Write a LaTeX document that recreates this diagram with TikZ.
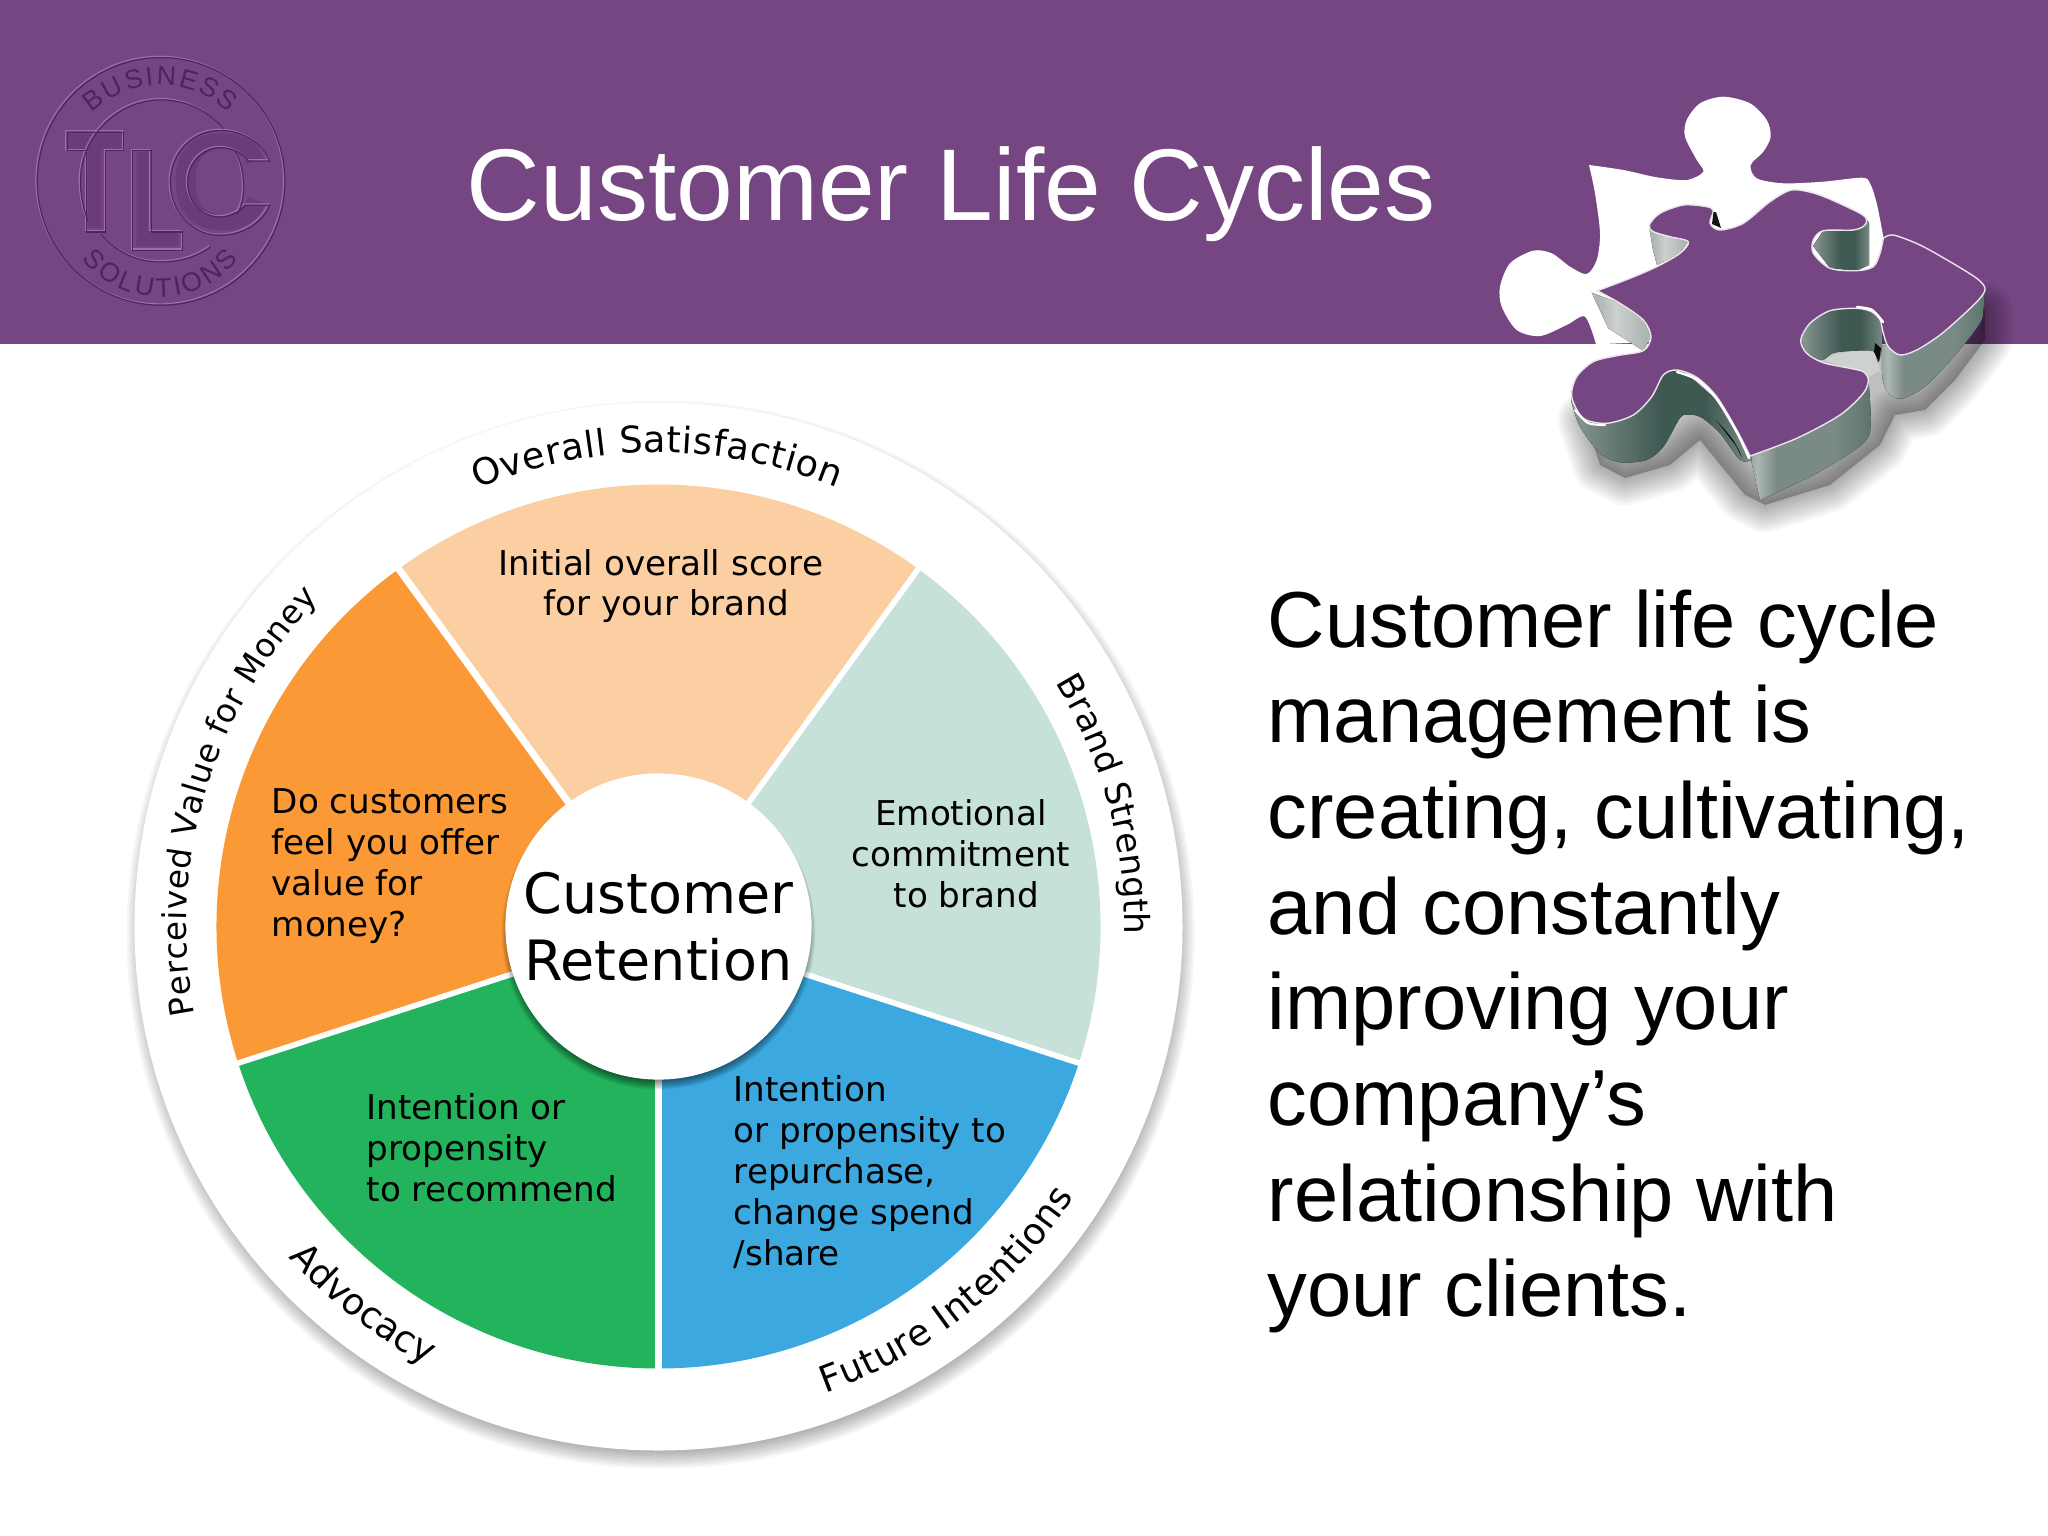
\documentclass[tikz,border=0pt]{standalone}
\usepackage{fontspec}
\setmainfont{Liberation Sans}
\newfontfamily\wheelfont{DejaVu Sans}
\usetikzlibrary{decorations.text}
\definecolor{band}{RGB}{117,70,130}
\definecolor{orangeS}{RGB}{251,153,55}
\definecolor{peachS}{RGB}{251,207,162}
\definecolor{mintS}{RGB}{197,225,218}
\definecolor{greenS}{RGB}{35,179,92}
\definecolor{blueS}{RGB}{59,169,224}
\definecolor{embD}{RGB}{78,36,94}
\definecolor{embL}{RGB}{160,110,175}
\definecolor{embF}{RGB}{108,60,122}
\definecolor{wD}{RGB}{62,88,82}
\definecolor{wM}{RGB}{122,138,133}
\definecolor{wL}{RGB}{172,182,178}
\definecolor{wP}{RGB}{205,209,207}
\pgfdeclarehorizontalshading{wallA}{100bp}{color(0bp)=(wM); color(15bp)=(wL); color(30bp)=(wM); color(50bp)=(wD); color(62bp)=(wD); color(75bp)=(wM); color(90bp)=(wL); color(100bp)=(wM)}
\pgfdeclarehorizontalshading{wallB}{100bp}{color(0bp)=(wM); color(20bp)=(wM); color(28bp)=(wL); color(36bp)=(wM); color(60bp)=(wM); color(80bp)=(wD!60!wM); color(100bp)=(wD!70!wM)}
\pgfdeclarehorizontalshading{wallC}{100bp}{color(0bp)=(wP); color(30bp)=(wL); color(45bp)=(wP); color(70bp)=(wL); color(100bp)=(wP)}
\tikzset{
  inner/.style={font=\wheelfont\fontsize{9.72}{11.67}\selectfont,inner sep=0pt,anchor=north west,align=left,text=black},
  innerc/.style={inner,anchor=north,align=center},
  sep/.style={white,line width=1.6pt},
  rim/.style={draw=white!85!band,line width=0.4pt},
  emb/.style={line width=0.32pt},
}
\begin{document}
\begin{tikzpicture}[x=0.01cm,y=-0.01cm]
\useasboundingbox (0,0) rectangle (2048,1536);
\fill[white] (0,0) rectangle (2048,1536);
\fill[band] (0,0) rectangle (2048,343.5);

% logo
\begin{scope}[shift={(0,20)},x=0.003333cm,y=-0.003333cm]
  \node[inner sep=0pt,text=embF,transform shape,xscale=.68,font=\bfseries\fontsize{39}{39}\selectfont] (logoT) at (285,485) {T};
  \node[inner sep=0pt,text=embF,transform shape,xscale=.6,font=\bfseries\fontsize{39}{39}\selectfont] (logoL) at (472,540) {L};
  \node[inner sep=0pt,text=embF,font=\bfseries\fontsize{39}{39}\selectfont] (logoC) at (660,487) {C};
  \foreach \dd/\cc in {-2/embL,2/embD}{
  \begin{scope}[shift={(\dd,\dd)}]
  \draw[\cc,emb] (482,483) circle[radius=372];
  \draw[\cc,emb] (670,325) .. controls (620,265) and (550,238) .. (482,238) .. controls (350,238) and (240,350) .. (240,482) .. controls (240,530) and (250,570) .. (262,600);
  \draw[\cc,emb] (300,640) .. controls (350,700) and (415,725) .. (482,725) .. controls (540,725) and (590,710) .. (630,680);
  \draw[\cc,emb] (200,335) -- (370,335) -- (370,390) -- (315,390) -- (315,635) -- (258,635) -- (258,390) -- (200,390) -- cycle;
  \draw[\cc,emb] (397,390) -- (452,390) -- (452,635) -- (547,635) -- (547,690) -- (397,690) -- cycle;
  \draw[\cc,emb] (808,422) .. controls (785,365) and (725,330) .. (660,330) .. controls (575,330) and (510,400) .. (510,485) .. controls (510,575) and (575,645) .. (660,645) .. controls (725,645) and (785,610) .. (808,555) -- (735,555) .. controls (715,575) and (690,590) .. (660,590) .. controls (605,590) and (562,545) .. (562,487) .. controls (562,430) and (605,382) .. (660,382) .. controls (695,382) and (725,395) .. (745,422) -- cycle;
  \draw[\cc,emb] (700,390) .. controls (730,420) and (745,530) .. (710,582);
  \end{scope}}
  \path[decorate,decoration={text along path,text align={fit to path},text={|\fontsize{7.6}{8}\selectfont\color{embD}|BUSINESS}}]
    (482-205,483-205) .. controls (400,168) and (565,168) .. (482+205,483-205);
  \path[decorate,decoration={text along path,text align={fit to path},text={|\fontsize{7.6}{8}\selectfont\color{embD}|SOLUTIONS}}]
    (482-235,483+235) .. controls (370,870) and (595,870) .. (482+235,483+235);
\end{scope}

\node[anchor=base west,inner sep=0pt,text=white,font=\fontsize{29}{34}\selectfont] (title) at (466,220) {Customer Life Cycles};

% puzzle piece, in picture pixels
  % soft shadow: stacked strokes
  \fill[black,opacity=.25] (1985,310) -- (1985,340) -- (1955,380) -- (1925,410) -- (1895,415) -- (1880,445) -- (1830,485) -- (1765,505) -- (1745,495) -- (1700,440) -- (1670,465) -- (1625,478) -- (1600,465) -- (1585,420) -- (1700,350) -- (1900,310) -- cycle;
  \foreach \w in {5,10,...,55}{
    \draw[black,opacity=.03,line width=\w*0.2845pt,line join=round]
      (1985,310) -- (1985,340) -- (1955,380) -- (1925,410) -- (1895,415) -- (1880,445) -- (1830,485) -- (1765,505) -- (1745,495) -- (1700,440) -- (1670,465) -- (1625,478) -- (1600,465) -- (1585,420) -- (1700,350) -- (1900,310) -- cycle;}
  % cavity
  \fill[white] plot[smooth,tension=.5] coordinates {(1596,344.3) (1585,316.7) (1566.7,325) (1540,336) (1516.7,330) (1501.7,306.7) (1500,286.7) (1510,263.3) (1533,250.7) (1551.7,253.3) (1570,266.7) (1586.7,274) (1596.7,260) (1600,233.3) (1595,193.3) (1589,165)} -- plot[smooth,tension=.5] coordinates {(1589,165) (1623.3,170) (1656.7,177.3) (1686.7,180) (1703.3,171.7) (1696.7,160) (1685,136.7) (1686.7,120) (1700,103.3) (1723.3,96.7) (1750,103.3) (1766.7,120) (1770.7,136.7) (1763.3,151.7) (1750.7,165) (1756.7,178.3) (1783.3,183.3) (1823,181.7) (1861.7,177.7) (1870,183.3) (1876.7,203.3) (1883.3,236.7)} -- (1880,280) -- (1700,340) -- cycle;
  % walls
  \fill[shading=wallB,shading angle=0] plot[smooth,tension=.5] coordinates {(1985,288) (1983.3,310) (1980,323.3) (1956.7,353.3) (1926.7,385) (1903.3,398.3) (1890,395) (1882.7,380) (1881.7,346.7)} -- (1900,340) -- (1960,300) -- cycle;
  \fill[shading=wallB,shading angle=0] plot[smooth,tension=.5] coordinates {(1868.3,378) (1870.7,423.3) (1863.3,443.3) (1816.7,473.3) (1760,500)} -- (1750,455) -- (1800,420) -- cycle;
  \fill[shading=wallA,shading angle=0] plot[smooth,tension=.5] coordinates {(1571.7,396) (1571.7,403) (1580,426.7) (1600,453.3) (1620,462.3) (1646.7,460) (1663.3,446.7) (1676.7,423.3) (1683.3,415) (1700,416.7) (1720,433.3) (1740,460) (1752,460)} -- (1740,420) -- (1676,365) -- (1640,385) -- (1600,410) -- cycle;
  \fill[black!80!wD] (1716,420) .. controls (1730,435) and (1738,445) .. (1742,458) -- (1736,446) -- cycle;
  % SE notch: floor, wall, dark fold
  \fill[wP] (1822,360) .. controls (1840,350) and (1860,350) .. (1875,352) -- (1880,370) -- (1868,378) -- (1850,368) -- cycle;
  \fill[shading=wallA,shading angle=0] plot[smooth,tension=.5] coordinates {(1800.7,340) (1810,323.3) (1830,310.7) (1856.7,308.3) (1871.7,311.7) (1881,325) (1882,347) (1878,362) (1873,351) (1850,351) (1833,353) (1822,360) (1806.7,353.3)} -- cycle;
  \fill[black!85!wD] (1875,343) -- (1881,348) -- (1879,362) -- (1874,352) -- cycle;
  % NE notch
  \fill[shading=wallA,shading angle=0] (1813,246) -- (1823,231) -- (1853,230) -- (1865,217) -- (1869,223) -- (1869,265) -- (1856,271) -- (1830,268) -- cycle;
  % left lobe and small walls
  \fill[shading=wallC,shading angle=0] (1591.7,292.7) -- (1620,303.3) -- (1643.3,320) -- (1651,336.7) -- (1643.3,350.7) -- (1608.3,328.3) -- cycle;
  \fill[shading=wallC,shading angle=0] (1649,226) -- (1670,236.7) -- (1688,241.7) -- (1680,253) -- (1657,265) -- (1653,250) -- cycle;
  % top face
  \draw[rim,fill=band] plot[smooth,tension=.5] coordinates {(1597.3,290.7) (1630,278.3) (1656.7,266.7) (1680,253.3) (1688.3,241.7) (1670,236.7) (1653.3,231.7) (1649.3,225) (1660,213.3) (1683.3,205) (1706.7,206.7) (1713.3,210.7) (1710,223.3) (1720,230) (1743.3,223.3) (1770,201.7) (1791.7,190) (1816.7,194) (1846.7,206.7) (1865,216.7) (1865,225) (1853.3,230) (1823.3,230.7) (1813.3,240) (1813.3,253.3) (1830,268.3) (1856.7,270.7) (1873.3,266.7) (1880,253.3) (1883.3,238.3)} -- plot[smooth,tension=.5] coordinates {(1883.3,238.3) (1893.3,235) (1920,245) (1950,261.7) (1976.7,278.3) (1985,288.3) (1980,298.3) (1963,315) (1940,335) (1916.7,350) (1900,355) (1888.3,346.7) (1883.3,333.3) (1880,320) (1871.7,311.7) (1856.7,308.3) (1830,310.7) (1810,323.3) (1800.7,340) (1806.7,353.3) (1823.3,362.7) (1850,368.3) (1863.3,371.7) (1868.3,380) (1863.3,393.3) (1840,415) (1796.7,438.3) (1750,456)} -- plot[smooth,tension=.5] coordinates {(1750,456) (1736.7,430) (1716.7,396.7) (1696.7,377.3) (1676.7,370) (1663.3,375) (1651.7,396.7) (1633.3,415) (1606.7,423.3) (1583.3,418.3) (1571.7,396.7) (1576.7,376.7) (1593.3,361.7) (1616.7,355.7) (1643.3,350.7) (1651,336.7) (1643.3,320) (1620,303.3) (1597.3,290.7)} -- cycle;
  \fill[black!75!wD] (1713.5,212) -- (1716,212) -- (1721,228) -- (1712,224) -- cycle;
  % bright edges
  \draw[white,line width=0.7pt,line cap=round] plot[smooth,tension=.5] coordinates {(1677,372) (1696.7,379.5) (1716.7,399) (1736.7,432) (1749,458)};
  \draw[white,line width=0.7pt,line cap=round] plot[smooth,tension=.5] coordinates {(1857,307) (1872,310) (1883,322)};
  \draw[white,line width=0.6pt,line cap=round] plot[smooth,tension=.5] coordinates {(1575,410) (1588,423) (1605,425)};

% wheel
\begin{scope}[shift={(658.5,926.5)},y=0.01cm]
  \foreach \i in {0,...,15}{
    \fill[black,opacity=.035] (2,-8) circle[radius=504+\i*2];}
  \fill[white] (0,0) circle[radius=524];
  \fill[peachS] (0,0) -- (126:442) arc[start angle=126,end angle=54,radius=442] -- cycle;
  \fill[mintS] (0,0) -- (54:442) arc[start angle=54,end angle=-18,radius=442] -- cycle;
  \fill[blueS] (0,0) -- (-18:442) arc[start angle=-18,end angle=-90,radius=442] -- cycle;
  \fill[greenS] (0,0) -- (-90:442) arc[start angle=-90,end angle=-162,radius=442] -- cycle;
  \fill[orangeS] (0,0) -- (-162:442) arc[start angle=-162,end angle=-234,radius=442] -- cycle;
  \coordinate (o) at (0,0);
  \coordinate (r1) at (126:446);
  \coordinate (r2) at (54:446);
  \coordinate (r3) at (-18:446);
  \coordinate (r4) at (-90:446);
  \coordinate (r5) at (-162:446);
  \draw[sep,line width=2pt] (o) -- (r1);
  \draw[sep] (o) -- (r2);
  \draw[sep] (o) -- (r3);
  \draw[sep,line width=2.2pt] (o) -- (r4);
  \draw[sep] (o) -- (r5);
  \foreach \i in {0,...,9}{
    \fill[black,opacity=.07] (0,-6) circle[radius=146+\i*1.2];}
  \node[circle,fill=white,inner sep=0pt,minimum size=3.06cm,align=center,font=\wheelfont\fontsize{15.8}{19}\selectfont] (hub) at (o) {Customer\\Retention};
  \path[decorate,decoration={text along path,text align={fit to path},text={|\wheelfont\fontsize{10.4}{12}\selectfont|Overall Satisfaction}}]
    (112.5:474) arc[start angle=112.5,end angle=67.8,radius=474];
  \path[decorate,decoration={text along path,text align={fit to path},text={|\wheelfont\fontsize{9.3}{12}\selectfont|Perceived Value for Money}}]
    (190.7:472) arc[start angle=190.7,end angle=136,radius=472];
  \path[decorate,decoration={text along path,text align={fit to path},text={|\wheelfont\fontsize{9.8}{12}\selectfont|Brand Strength}}]
    (31.5:466) arc[start angle=31.5,end angle=-1,radius=466];
  \path[decorate,decoration={text along path,text align={fit to path},text={|\wheelfont\fontsize{10.4}{12}\selectfont|Future Intentions}}]
    (-70.3:496) arc[start angle=-70.3,end angle=-33,radius=496];
  \path[decorate,decoration={text along path,text align={fit to path},text={|\wheelfont\fontsize{10.4}{12}\selectfont|Advocacy}}]
    (221.8:496) arc[start angle=221.8,end angle=241.3,radius=496];
\end{scope}

\node[innerc] (tPeach) at (661,549) {Initial overall score\\[-0.3pt]\hspace*{3pt}for your brand};
\node[innerc] (tMint) at (961,799) {Emotional\\commitment\\\hspace*{3pt}to brand};
\node[inner] (tOrange) at (271,788) {Do customers\\feel you offer\\value for\\money?};
\node[inner] (tGreen) at (366,1093) {Intention or\\propensity\\to recommend};
\node[inner] (tBlue) at (733,1075) {Intention\\or propensity to\\repurchase,\\change spend\\/share};

\node[anchor=north west,inner sep=0pt,align=left,font=\fontsize{22.6}{27.2}\selectfont] (body) at (1267,589) {Customer life cycle\\management is\\creating, cultivating,\\and constantly\\improving your\\company’s\\relationship with\\your clients.};
\end{tikzpicture}
\end{document}
